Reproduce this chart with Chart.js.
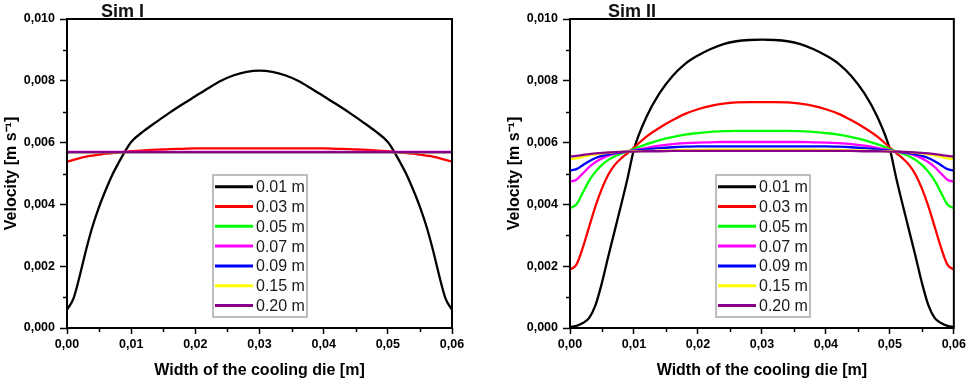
<!DOCTYPE html>
<html>
<head>
  <meta charset="utf-8">
  <title>Velocity across the cooling die</title>
  <script src="https://cdn.jsdelivr.net/npm/chart.js"></script>
  <style>
    body { margin: 0; background: #ffffff; }
    .panel { position: absolute; top: 0; width: 484px; height: 381px; }
    #left { left: 0; }
    #right { left: 485px; }
  </style>
</head>
<body>

<div class="panel" id="left"><canvas id="simI" width="484" height="381"></canvas></div>
<div class="panel" id="right"><canvas id="simII" width="484" height="381"></canvas></div>

<script>
  // position across the die [m]
  const widthPos = [
    0, 0.001, 0.002, 0.003, 0.004, 0.005, 0.006, 0.007, 0.008, 0.009, 0.010,
    0.012, 0.014, 0.016, 0.018, 0.020, 0.022, 0.024, 0.026, 0.028, 0.030,
    0.032, 0.034, 0.036, 0.038, 0.040, 0.042, 0.044, 0.046, 0.048,
    0.050, 0.051, 0.052, 0.053, 0.054, 0.055, 0.056, 0.057, 0.058, 0.059, 0.060
  ];

  const seriesLabels = ["0.01 m", "0.03 m", "0.05 m", "0.07 m", "0.09 m", "0.15 m", "0.20 m"];
  const seriesColors = ["#000000", "#ff0000", "#00ff00", "#ff00ff", "#0000ff", "#ffff00", "#8b008b"];

  // velocities in mm/s (axis shows m/s)
  // Sim I
  const simI_001 = [0.59, 0.95, 1.70, 2.55, 3.30, 3.92, 4.45, 4.93, 5.33, 5.70, 6.02,
    6.38, 6.68, 6.97, 7.24, 7.50, 7.76, 8.00, 8.18, 8.29, 8.33, 8.29, 8.18, 8.00, 7.76, 7.50, 7.24, 6.97, 6.68, 6.38,
    6.02, 5.70, 5.33, 4.93, 4.45, 3.92, 3.30, 2.55, 1.70, 0.95, 0.59];
  const simI_003 = [5.38, 5.44, 5.50, 5.55, 5.58, 5.61, 5.64, 5.66, 5.68, 5.70, 5.72,
    5.75, 5.77, 5.79, 5.80, 5.81, 5.81, 5.81, 5.81, 5.81, 5.81, 5.81, 5.81, 5.81, 5.81, 5.81, 5.80, 5.79, 5.77, 5.75,
    5.72, 5.70, 5.68, 5.66, 5.64, 5.61, 5.58, 5.55, 5.50, 5.44, 5.38];
  const simI_005 = [5.69, 5.69, 5.69, 5.69, 5.69, 5.69, 5.69, 5.69, 5.69, 5.69, 5.69,
    5.69, 5.69, 5.69, 5.69, 5.69, 5.69, 5.69, 5.69, 5.69, 5.69, 5.69, 5.69, 5.69, 5.69, 5.69, 5.69, 5.69, 5.69, 5.69,
    5.69, 5.69, 5.69, 5.69, 5.69, 5.69, 5.69, 5.69, 5.69, 5.69, 5.69];
  const simI_007 = [5.70, 5.70, 5.70, 5.70, 5.70, 5.70, 5.70, 5.70, 5.70, 5.70, 5.70,
    5.70, 5.70, 5.70, 5.70, 5.70, 5.70, 5.70, 5.70, 5.70, 5.70, 5.70, 5.70, 5.70, 5.70, 5.70, 5.70, 5.70, 5.70, 5.70,
    5.70, 5.70, 5.70, 5.70, 5.70, 5.70, 5.70, 5.70, 5.70, 5.70, 5.70];
  const simI_009 = [5.69, 5.69, 5.69, 5.69, 5.69, 5.69, 5.69, 5.69, 5.69, 5.69, 5.69,
    5.69, 5.69, 5.69, 5.69, 5.69, 5.69, 5.69, 5.69, 5.69, 5.69, 5.69, 5.69, 5.69, 5.69, 5.69, 5.69, 5.69, 5.69, 5.69,
    5.69, 5.69, 5.69, 5.69, 5.69, 5.69, 5.69, 5.69, 5.69, 5.69, 5.69];
  const simI_015 = [5.69, 5.69, 5.69, 5.69, 5.69, 5.69, 5.69, 5.69, 5.69, 5.69, 5.69,
    5.69, 5.69, 5.69, 5.69, 5.69, 5.69, 5.69, 5.69, 5.69, 5.69, 5.69, 5.69, 5.69, 5.69, 5.69, 5.69, 5.69, 5.69, 5.69,
    5.69, 5.69, 5.69, 5.69, 5.69, 5.69, 5.69, 5.69, 5.69, 5.69, 5.69];
  const simI_020 = [5.69, 5.69, 5.69, 5.69, 5.69, 5.69, 5.69, 5.69, 5.69, 5.69, 5.69,
    5.69, 5.69, 5.69, 5.69, 5.69, 5.69, 5.69, 5.69, 5.69, 5.69, 5.69, 5.69, 5.69, 5.69, 5.69, 5.69, 5.69, 5.69, 5.69,
    5.69, 5.69, 5.69, 5.69, 5.69, 5.69, 5.69, 5.69, 5.69, 5.69, 5.69];

  // Sim II
  const simII_001 = [0.03, 0.07, 0.16, 0.33, 0.75, 1.47, 2.33, 3.16, 3.99, 4.85, 5.78,
    6.85, 7.60, 8.15, 8.55, 8.82, 9.03, 9.19, 9.28, 9.32, 9.33, 9.32, 9.28, 9.19, 9.03, 8.82, 8.55, 8.15, 7.60, 6.85,
    5.78, 4.85, 3.99, 3.16, 2.33, 1.47, 0.75, 0.33, 0.16, 0.07, 0.03];
  const simII_003 = [1.89, 2.05, 2.60, 3.28, 3.95, 4.52, 4.97, 5.28, 5.49, 5.66, 5.84,
    6.20, 6.48, 6.72, 6.93, 7.08, 7.19, 7.26, 7.30, 7.31, 7.31, 7.31, 7.30, 7.26, 7.19, 7.08, 6.93, 6.72, 6.48, 6.20,
    5.84, 5.66, 5.49, 5.28, 4.97, 4.52, 3.95, 3.28, 2.60, 2.05, 1.89];
  const simII_005 = [3.88, 4.00, 4.38, 4.77, 5.06, 5.28, 5.44, 5.56, 5.64, 5.71, 5.79,
    5.95, 6.08, 6.18, 6.26, 6.31, 6.35, 6.37, 6.38, 6.38, 6.38, 6.38, 6.38, 6.37, 6.35, 6.31, 6.26, 6.18, 6.08, 5.95,
    5.79, 5.71, 5.64, 5.56, 5.44, 5.28, 5.06, 4.77, 4.38, 4.00, 3.88];
  const simII_007 = [4.74, 4.80, 5.00, 5.21, 5.37, 5.49, 5.58, 5.64, 5.68, 5.71, 5.75,
    5.83, 5.90, 5.95, 5.98, 6.00, 6.01, 6.02, 6.02, 6.02, 6.02, 6.02, 6.02, 6.02, 6.01, 6.00, 5.98, 5.95, 5.90, 5.83,
    5.75, 5.71, 5.68, 5.64, 5.58, 5.49, 5.37, 5.21, 5.00, 4.80, 4.74];
  const simII_009 = [5.10, 5.14, 5.27, 5.40, 5.50, 5.57, 5.62, 5.66, 5.69, 5.71, 5.74,
    5.78, 5.82, 5.85, 5.87, 5.88, 5.88, 5.88, 5.88, 5.88, 5.88, 5.88, 5.88, 5.88, 5.88, 5.88, 5.87, 5.85, 5.82, 5.78,
    5.74, 5.71, 5.69, 5.66, 5.62, 5.57, 5.50, 5.40, 5.27, 5.14, 5.10];
  const simII_015 = [5.47, 5.49, 5.54, 5.59, 5.62, 5.65, 5.67, 5.69, 5.70, 5.71, 5.72,
    5.73, 5.74, 5.75, 5.76, 5.76, 5.77, 5.77, 5.77, 5.77, 5.77, 5.77, 5.77, 5.77, 5.77, 5.76, 5.76, 5.75, 5.74, 5.73,
    5.72, 5.71, 5.70, 5.69, 5.67, 5.65, 5.62, 5.59, 5.54, 5.49, 5.47];
  const simII_020 = [5.55, 5.57, 5.60, 5.63, 5.65, 5.67, 5.68, 5.69, 5.70, 5.71, 5.71,
    5.72, 5.72, 5.73, 5.73, 5.73, 5.73, 5.73, 5.73, 5.73, 5.73, 5.73, 5.73, 5.73, 5.73, 5.73, 5.73, 5.73, 5.72, 5.72,
    5.71, 5.71, 5.70, 5.69, 5.68, 5.67, 5.65, 5.63, 5.60, 5.57, 5.55];

  const FONT = '"Liberation Sans", Arial, Helvetica, sans-serif';

  // frame, minor ticks, inner legend and panel title
  const panelDecor = {
    id: 'panelDecor',
    afterDatasetsDraw(chart, args, opts) {
      const ctx = chart.ctx;
      const a = chart.chartArea;
      const x = chart.scales.x, y = chart.scales.y;
      ctx.save();

      ctx.strokeStyle = '#000';
      ctx.lineWidth = 1.5;
      ctx.beginPath();
      for (let k = 1; k < 10; k += 2) {
        const py = Math.round(y.getPixelForValue(k * 0.001)) + 0.5;
        ctx.moveTo(a.left - 4, py); ctx.lineTo(a.left, py);
      }
      for (let k = 1; k < 12; k += 2) {
        const px = Math.round(x.getPixelForValue(k * 0.005)) + 0.5;
        ctx.moveTo(px, a.bottom); ctx.lineTo(px, a.bottom + 4);
      }
      ctx.stroke();

      ctx.lineWidth = 2;
      ctx.strokeRect(a.left, a.top, a.right - a.left, a.bottom - a.top);

      // legend box
      const lx = a.left + 146, ly = a.top + 156, lw = 94, lh = 142;
      ctx.fillStyle = '#fff';
      ctx.fillRect(lx, ly, lw, lh);
      ctx.strokeStyle = '#a9a9a9';
      ctx.lineWidth = 1.5;
      ctx.strokeRect(lx, ly, lw, lh);
      ctx.font = '16px ' + FONT;
      ctx.textBaseline = 'middle';
      ctx.textAlign = 'left';
      chart.data.datasets.forEach((ds, i) => {
        const cy = ly + 11.7 + i * 19.8;
        ctx.strokeStyle = ds.borderColor;
        ctx.lineWidth = 3;
        ctx.beginPath();
        ctx.moveTo(lx + 2, cy); ctx.lineTo(lx + 40, cy);
        ctx.stroke();
        ctx.fillStyle = '#1a1a1a';
        ctx.fillText(ds.label, lx + 43, cy + 1);
      });

      // panel title
      ctx.font = 'bold 18px ' + FONT;
      ctx.fillStyle = '#111';
      ctx.textBaseline = 'alphabetic';
      ctx.fillText(opts.title, a.left + opts.titleOffset, 17);
      ctx.restore();
    }
  };

  function makeChart(id, title, titleOffset, series, padLeft, padRight) {
    const datasets = series.map((vals, i) => ({
      label: seriesLabels[i],
      data: widthPos.map((w, j) => ({ x: w, y: vals[j] / 1000 })),
      borderColor: seriesColors[i],
      backgroundColor: seriesColors[i],
      borderWidth: 2.3,
      pointRadius: 0,
      fill: false,
      cubicInterpolationMode: 'monotone',
      order: series.length - i
    }));

    const tickFont = { family: FONT, size: 12.5, weight: 'bold' };
    const titleFont = { family: FONT, size: 16, weight: 'bold' };

    return new Chart(document.getElementById(id), {
      type: 'line',
      data: { datasets: datasets },
      options: {
        responsive: false,
        animation: false,
        layout: { padding: { left: padLeft, right: padRight, top: 19, bottom: 0 } },
        plugins: {
          legend: { display: false },
          tooltip: { enabled: false },
          panelDecor: { title: title, titleOffset: titleOffset }
        },
        scales: {
          x: {
            type: 'linear',
            min: 0,
            max: 0.06,
            ticks: {
              stepSize: 0.01,
              color: '#000',
              font: tickFont,
              padding: 3,
              maxRotation: 0,
              autoSkip: false,
              callback: v => v.toFixed(2).replace('.', ',')
            },
            grid: { drawOnChartArea: false, tickLength: 6, tickWidth: 1.5, tickColor: '#000' },
            border: { display: false },
            title: {
              display: true,
              text: 'Width of the cooling die [m]',
              color: '#000',
              font: titleFont,
              padding: { top: 0, bottom: 1 }
            },
            afterFit: s => { s.height = 53; }
          },
          y: {
            type: 'linear',
            min: 0,
            max: 0.01,
            ticks: {
              stepSize: 0.002,
              color: '#000',
              font: tickFont,
              padding: 5,
              callback: v => v.toFixed(3).replace('.', ',')
            },
            grid: { drawOnChartArea: false, tickLength: 7, tickWidth: 1.5, tickColor: '#000' },
            border: { display: false },
            title: {
              display: true,
              text: 'Velocity [m s\u207B\u00B9]',
              color: '#000',
              font: titleFont,
              padding: { top: 2, bottom: 0 }
            },
            afterFit: s => { s.width = 67; }
          }
        }
      },
      plugins: [panelDecor]
    });
  }

  makeChart('simI', 'Sim I', 34,
    [simI_001, simI_003, simI_005, simI_007, simI_009, simI_015, simI_020], 0, 32);
  makeChart('simII', 'Sim II', 38,
    [simII_001, simII_003, simII_005, simII_007, simII_009, simII_015, simII_020], 18, 15);
</script>
</body>
</html>
